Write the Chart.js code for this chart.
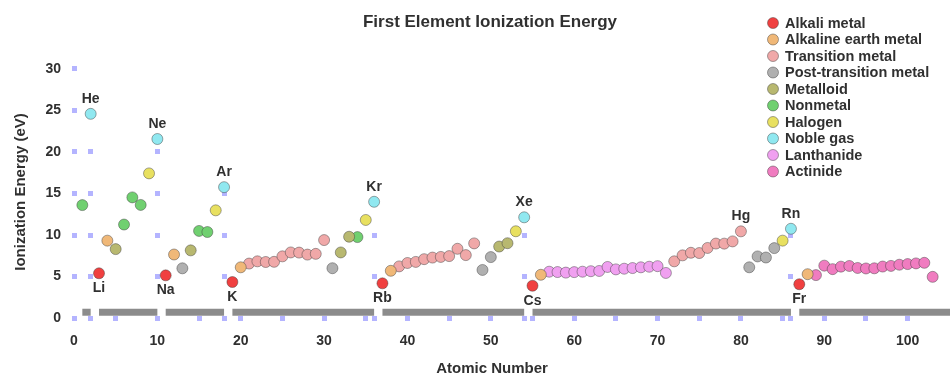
<!DOCTYPE html>
<html>
<head>
<meta charset="utf-8">
<script src="https://cdn.jsdelivr.net/npm/chart.js@4/dist/chart.umd.min.js"></script>
<style>
  html, body { margin: 0; padding: 0; background: #ffffff; }
  #wrap { width: 950px; height: 379px; position: relative; }
</style>
</head>
<body>
<div id="wrap"><canvas id="chart" width="950" height="379"></canvas></div>
<script>
// Element symbols, Z = 1..103
const symbols = ['H','He','Li','Be','B','C','N','O','F','Ne','Na','Mg','Al','Si','P','S','Cl','Ar','K','Ca',
  'Sc','Ti','V','Cr','Mn','Fe','Co','Ni','Cu','Zn','Ga','Ge','As','Se','Br','Kr','Rb','Sr','Y','Zr',
  'Nb','Mo','Tc','Ru','Rh','Pd','Ag','Cd','In','Sn','Sb','Te','I','Xe','Cs','Ba','La','Ce','Pr','Nd',
  'Pm','Sm','Eu','Gd','Tb','Dy','Ho','Er','Tm','Yb','Lu','Hf','Ta','W','Re','Os','Ir','Pt','Au','Hg',
  'Tl','Pb','Bi','Po','At','Rn','Fr','Ra','Ac','Th','Pa','U','Np','Pu','Am','Cm','Bk','Cf','Es','Fm',
  'Md','No','Lr'];

// First ionization energy (eV), Z = 1..103
const energies = [13.60,24.59,5.39,9.32,8.30,11.26,14.53,13.62,17.42,21.56,5.14,7.65,5.99,8.15,10.49,10.36,12.97,15.76,4.34,6.11,
  6.56,6.83,6.75,6.77,7.43,7.90,7.88,7.64,7.73,9.39,6.00,7.90,9.79,9.75,11.81,14.00,4.18,5.69,6.22,6.63,
  6.76,7.09,7.28,7.36,7.46,8.34,7.58,8.99,5.79,7.34,8.61,9.01,10.45,12.13,3.89,5.21,5.58,5.54,5.47,5.53,
  5.58,5.64,5.67,6.15,5.86,5.94,6.02,6.11,6.18,6.25,5.43,6.83,7.55,7.86,7.83,8.44,8.97,8.96,9.23,10.44,
  6.11,7.42,7.29,8.42,9.32,10.75,4.07,5.28,5.17,6.31,5.89,6.19,6.27,6.03,5.97,5.99,6.20,6.28,6.42,6.50,
  6.58,6.65,4.96];

// Category index of each element, Z = 1..103
const categoryOf = [5,7,0,1,4,5,5,5,6,7,0,1,3,4,5,5,6,7,0,1,
  2,2,2,2,2,2,2,2,2,2,3,4,4,5,6,7,0,1,2,2,
  2,2,2,2,2,2,2,2,3,3,4,4,6,7,0,1,8,8,8,8,
  8,8,8,8,8,8,8,8,8,8,8,2,2,2,2,2,2,2,2,2,
  3,3,3,3,6,7,0,1,9,9,9,9,9,9,9,9,9,9,9,9,
  9,9,9];

const categories = ['Alkali metal','Alkaline earth metal','Transition metal','Post-transition metal',
  'Metalloid','Nonmetal','Halogen','Noble gas','Lanthanide','Actinide'];
const categoryColors = ['#f04040','#f0b878','#f0a8a8','#b0b0b0','#b8b870',
  '#70d070','#e8e060','#90e8f0','#f0a0f0','#f07cc0'];

// Periods of the table, as ranges of atomic number
const periodStarts = [1, 3, 11, 19, 37, 55, 87];
const periodEnds   = [2, 10, 18, 36, 54, 86, 118];
const periodBarLevel = 0.7;

// Elements whose symbol is written next to the marker
const labelAbove = [2, 10, 18, 36, 54, 80, 86];
const labelBelow = [3, 11, 19, 37, 55, 87];

// Axis ticks
const xTickValues = [0, 10, 20, 30, 40, 50, 60, 70, 80, 90, 100];
const yTickValues = [0, 5, 10, 15, 20, 25, 30];

const FONT = "'Liberation Sans', Arial, sans-serif";
const TEXT = '#303030';

function categoryDataset(ci) {
  const pts = [];
  energies.forEach((e, i) => { if (categoryOf[i] === ci) pts.push({ x: i + 1, y: e }); });
  return {
    type: 'scatter',
    label: categories[ci],
    data: pts,
    backgroundColor: categoryColors[ci],
    borderColor: 'rgba(60,60,60,0.45)',
    borderWidth: 1,
    pointRadius: 5.5,
    order: 1
  };
}

function periodDataset(p) {
  return {
    type: 'line',
    label: 'Period ' + (p + 1),
    data: [{ x: periodStarts[p], y: periodBarLevel }, { x: periodEnds[p], y: periodBarLevel }],
    borderColor: '#8c8c8c',
    borderWidth: 7,
    borderCapStyle: 'butt',
    pointRadius: 0,
    showLine: true,
    clip: false,
    order: 2
  };
}

const datasets = [];
periodStarts.forEach((_, p) => datasets.push(periodDataset(p)));
categories.forEach((_, ci) => datasets.push(categoryDataset(ci)));

// Small guide squares: along the value axis, along the base line, and under each noble gas
const guideSquares = {
  id: 'guideSquares',
  beforeDatasetsDraw(chart) {
    const { ctx, scales: { x, y } } = chart;
    const s = 5;
    const spots = [];
    yTickValues.forEach(v => spots.push([0, v]));
    for (let v = 5; v <= 100; v += 5) spots.push([v, 0]);
    energies.forEach((e, i) => {
      if (categoryOf[i] !== 7) return;
      for (let v = 0; v < e; v += 5) spots.push([i + 1, v]);
    });
    ctx.save();
    ctx.fillStyle = '#b4b4ff';
    spots.forEach(([a, b]) => {
      const px = x.getPixelForValue(a), py = y.getPixelForValue(b);
      ctx.fillRect(Math.round(px - s / 2), Math.round(py - s / 2), s, s);
    });
    ctx.restore();
  }
};

// Element symbols beside selected markers
const symbolLabels = {
  id: 'symbolLabels',
  afterDatasetsDraw(chart) {
    const { ctx, scales: { x, y } } = chart;
    ctx.save();
    ctx.font = 'bold 14px ' + FONT;
    ctx.fillStyle = TEXT;
    ctx.textAlign = 'center';
    ctx.textBaseline = 'middle';
    labelAbove.forEach(z => {
      ctx.fillText(symbols[z - 1], x.getPixelForValue(z), y.getPixelForValue(energies[z - 1]) - 15);
    });
    labelBelow.forEach(z => {
      ctx.fillText(symbols[z - 1], x.getPixelForValue(z), y.getPixelForValue(energies[z - 1]) + 15);
    });
    ctx.restore();
  }
};

// Title, axis titles and category key
const annotations = {
  id: 'annotations',
  afterDraw(chart) {
    const { ctx } = chart;
    ctx.save();
    ctx.fillStyle = TEXT;
    ctx.textBaseline = 'middle';
    ctx.textAlign = 'center';
    ctx.font = 'bold 17px ' + FONT;
    ctx.fillText('First Element Ionization Energy', 490, 22);
    ctx.font = 'bold 15px ' + FONT;
    ctx.fillText('Atomic Number', 492, 369);
    ctx.save();
    ctx.translate(21, 192);
    ctx.rotate(-Math.PI / 2);
    ctx.fillText('Ionization Energy (eV)', 0, 0);
    ctx.restore();

    ctx.textAlign = 'left';
    ctx.font = 'bold 14.5px ' + FONT;
    categories.forEach((name, i) => {
      const cy = 23 + i * 16.5;
      ctx.beginPath();
      ctx.arc(773, cy, 5.5, 0, Math.PI * 2);
      ctx.fillStyle = categoryColors[i];
      ctx.fill();
      ctx.lineWidth = 1;
      ctx.strokeStyle = 'rgba(60,60,60,0.45)';
      ctx.stroke();
      ctx.fillStyle = TEXT;
      ctx.fillText(name, 785, cy + 0.5);
    });
    ctx.restore();
  }
};

new Chart(document.getElementById('chart'), {
  type: 'scatter',
  data: { datasets },
  options: {
    responsive: false,
    animation: false,
    events: [],
    layout: { padding: { top: 44, right: 0, bottom: 0, left: 0 } },
    plugins: {
      legend: { display: false },
      title: { display: false },
      tooltip: { enabled: false }
    },
    scales: {
      x: {
        type: 'linear',
        bounds: 'data',
        min: 0,
        max: 104.3,
        grid: { display: false, drawTicks: false },
        border: { display: false },
        ticks: { padding: 2, color: TEXT, font: { family: FONT, size: 14, weight: 'bold' }, maxRotation: 0 },
        afterBuildTicks(scale) { scale.ticks = xTickValues.map(v => ({ value: v })); },
        afterFit(scale) { scale.height = 48.5; }
      },
      y: {
        type: 'linear',
        bounds: 'data',
        min: -1.5,
        max: 33,
        grid: { display: false, drawTicks: false },
        border: { display: false },
        ticks: { padding: 13, color: TEXT, font: { family: FONT, size: 14, weight: 'bold' } },
        afterBuildTicks(scale) { scale.ticks = yTickValues.map(v => ({ value: v })); },
        afterFit(scale) { scale.width = 74; }
      }
    }
  },
  plugins: [guideSquares, symbolLabels, annotations]
});
</script>
</body>
</html>
